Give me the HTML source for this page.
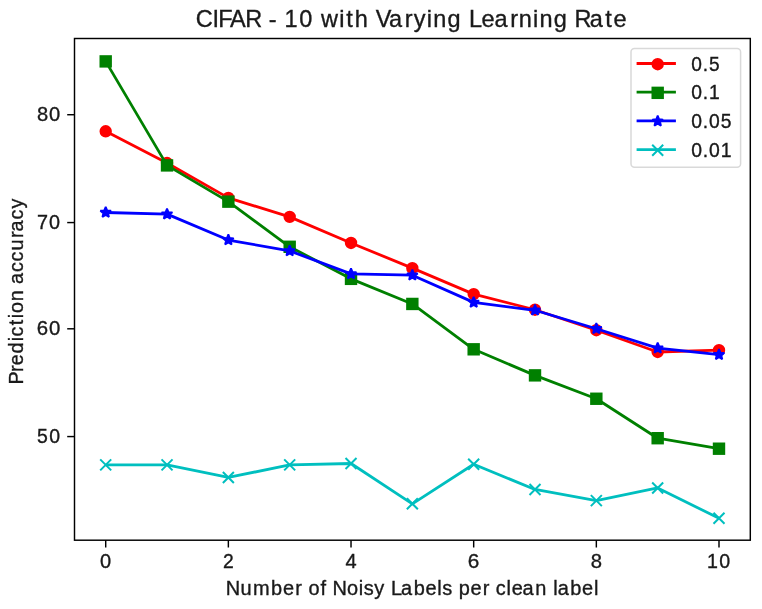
<!DOCTYPE html>
<html><head><meta charset="utf-8"><style>
html,body{margin:0;padding:0;background:#fff;width:762px;height:609px;overflow:hidden}
svg{display:block;will-change:transform}
.t{font-family:"Liberation Sans",sans-serif;font-size:19.3px;fill:#1a1a1a;stroke:#1a1a1a;stroke-width:0.35px}
.title{font-family:"Liberation Sans",sans-serif;font-size:23.3px;fill:#1a1a1a;stroke:#1a1a1a;stroke-width:0.35px}
</style></head><body>
<svg width="762" height="609" viewBox="0 0 762 609">
<rect x="0" y="0" width="762" height="609" fill="#fff"/>
<g><polyline points="105.70,131.31 167.03,163.05 228.36,197.90 289.69,216.88 351.02,242.94 412.35,268.14 473.68,294.09 535.01,309.74 596.34,330.23 657.67,351.99 719.00,350.17" fill="none" stroke="#ff0000" stroke-width="2.8" stroke-linejoin="round" stroke-linecap="butt"/><circle cx="105.70" cy="131.31" r="5.30" fill="#ff0000" stroke="#ff0000" stroke-width="1.8"/><circle cx="167.03" cy="163.05" r="5.30" fill="#ff0000" stroke="#ff0000" stroke-width="1.8"/><circle cx="228.36" cy="197.90" r="5.30" fill="#ff0000" stroke="#ff0000" stroke-width="1.8"/><circle cx="289.69" cy="216.88" r="5.30" fill="#ff0000" stroke="#ff0000" stroke-width="1.8"/><circle cx="351.02" cy="242.94" r="5.30" fill="#ff0000" stroke="#ff0000" stroke-width="1.8"/><circle cx="412.35" cy="268.14" r="5.30" fill="#ff0000" stroke="#ff0000" stroke-width="1.8"/><circle cx="473.68" cy="294.09" r="5.30" fill="#ff0000" stroke="#ff0000" stroke-width="1.8"/><circle cx="535.01" cy="309.74" r="5.30" fill="#ff0000" stroke="#ff0000" stroke-width="1.8"/><circle cx="596.34" cy="330.23" r="5.30" fill="#ff0000" stroke="#ff0000" stroke-width="1.8"/><circle cx="657.67" cy="351.99" r="5.30" fill="#ff0000" stroke="#ff0000" stroke-width="1.8"/><circle cx="719.00" cy="350.17" r="5.30" fill="#ff0000" stroke="#ff0000" stroke-width="1.8"/><polyline points="105.70,61.40 167.03,165.41 228.36,201.66 289.69,246.80 351.02,278.86 412.35,303.95 473.68,349.31 535.01,375.37 596.34,398.75 657.67,438.21 719.00,448.71" fill="none" stroke="#008000" stroke-width="2.8" stroke-linejoin="round" stroke-linecap="butt"/><rect x="100.40" y="56.10" width="10.60" height="10.60" fill="#008000" stroke="#008000" stroke-width="1.8" stroke-linejoin="miter"/><rect x="161.73" y="160.11" width="10.60" height="10.60" fill="#008000" stroke="#008000" stroke-width="1.8" stroke-linejoin="miter"/><rect x="223.06" y="196.36" width="10.60" height="10.60" fill="#008000" stroke="#008000" stroke-width="1.8" stroke-linejoin="miter"/><rect x="284.39" y="241.50" width="10.60" height="10.60" fill="#008000" stroke="#008000" stroke-width="1.8" stroke-linejoin="miter"/><rect x="345.72" y="273.56" width="10.60" height="10.60" fill="#008000" stroke="#008000" stroke-width="1.8" stroke-linejoin="miter"/><rect x="407.05" y="298.65" width="10.60" height="10.60" fill="#008000" stroke="#008000" stroke-width="1.8" stroke-linejoin="miter"/><rect x="468.38" y="344.01" width="10.60" height="10.60" fill="#008000" stroke="#008000" stroke-width="1.8" stroke-linejoin="miter"/><rect x="529.71" y="370.07" width="10.60" height="10.60" fill="#008000" stroke="#008000" stroke-width="1.8" stroke-linejoin="miter"/><rect x="591.04" y="393.45" width="10.60" height="10.60" fill="#008000" stroke="#008000" stroke-width="1.8" stroke-linejoin="miter"/><rect x="652.37" y="432.91" width="10.60" height="10.60" fill="#008000" stroke="#008000" stroke-width="1.8" stroke-linejoin="miter"/><rect x="713.70" y="443.41" width="10.60" height="10.60" fill="#008000" stroke="#008000" stroke-width="1.8" stroke-linejoin="miter"/><polyline points="105.70,212.49 167.03,214.09 228.36,240.04 289.69,250.87 351.02,273.93 412.35,275.22 473.68,302.35 535.01,310.28 596.34,328.72 657.67,348.13 719.00,354.67" fill="none" stroke="#0000ff" stroke-width="2.8" stroke-linejoin="round" stroke-linecap="butt"/><polygon points="105.70,206.89 104.22,210.45 100.37,210.76 103.30,213.27 102.41,217.02 105.70,215.01 108.99,217.02 108.10,213.27 111.03,210.76 107.18,210.45" fill="#0000ff" stroke="#0000ff" stroke-width="1.8" stroke-linejoin="bevel"/><polygon points="167.03,208.49 165.55,212.06 161.70,212.36 164.63,214.87 163.74,218.63 167.03,216.61 170.32,218.63 169.43,214.87 172.36,212.36 168.51,212.06" fill="#0000ff" stroke="#0000ff" stroke-width="1.8" stroke-linejoin="bevel"/><polygon points="228.36,234.44 226.88,238.01 223.03,238.31 225.96,240.82 225.07,244.58 228.36,242.56 231.65,244.58 230.76,240.82 233.69,238.31 229.84,238.01" fill="#0000ff" stroke="#0000ff" stroke-width="1.8" stroke-linejoin="bevel"/><polygon points="289.69,245.27 288.21,248.84 284.36,249.14 287.29,251.65 286.40,255.41 289.69,253.39 292.98,255.41 292.09,251.65 295.02,249.14 291.17,248.84" fill="#0000ff" stroke="#0000ff" stroke-width="1.8" stroke-linejoin="bevel"/><polygon points="351.02,268.33 349.54,271.89 345.69,272.20 348.62,274.71 347.73,278.46 351.02,276.45 354.31,278.46 353.42,274.71 356.35,272.20 352.50,271.89" fill="#0000ff" stroke="#0000ff" stroke-width="1.8" stroke-linejoin="bevel"/><polygon points="412.35,269.62 410.87,273.18 407.02,273.49 409.95,275.99 409.06,279.75 412.35,277.74 415.64,279.75 414.75,275.99 417.68,273.49 413.83,273.18" fill="#0000ff" stroke="#0000ff" stroke-width="1.8" stroke-linejoin="bevel"/><polygon points="473.68,296.75 472.20,300.31 468.35,300.61 471.28,303.12 470.39,306.88 473.68,304.87 476.97,306.88 476.08,303.12 479.01,300.61 475.16,300.31" fill="#0000ff" stroke="#0000ff" stroke-width="1.8" stroke-linejoin="bevel"/><polygon points="535.01,304.68 533.53,308.24 529.68,308.55 532.61,311.06 531.72,314.81 535.01,312.80 538.30,314.81 537.41,311.06 540.34,308.55 536.49,308.24" fill="#0000ff" stroke="#0000ff" stroke-width="1.8" stroke-linejoin="bevel"/><polygon points="596.34,323.12 594.86,326.69 591.01,326.99 593.94,329.50 593.05,333.25 596.34,331.24 599.63,333.25 598.74,329.50 601.67,326.99 597.82,326.69" fill="#0000ff" stroke="#0000ff" stroke-width="1.8" stroke-linejoin="bevel"/><polygon points="657.67,342.53 656.19,346.09 652.34,346.40 655.27,348.91 654.38,352.66 657.67,350.65 660.96,352.66 660.07,348.91 663.00,346.40 659.15,346.09" fill="#0000ff" stroke="#0000ff" stroke-width="1.8" stroke-linejoin="bevel"/><polygon points="719.00,349.07 717.52,352.63 713.67,352.94 716.60,355.45 715.71,359.20 719.00,357.19 722.29,359.20 721.40,355.45 724.33,352.94 720.48,352.63" fill="#0000ff" stroke="#0000ff" stroke-width="1.8" stroke-linejoin="bevel"/><polyline points="105.70,464.91 167.03,464.91 228.36,477.45 289.69,464.91 351.02,463.51 412.35,503.83 473.68,464.26 535.01,489.46 596.34,500.61 657.67,487.96 719.00,518.31" fill="none" stroke="#00bfbf" stroke-width="2.8" stroke-linejoin="round" stroke-linecap="butt"/><path d="M100.20,459.41L111.20,470.41M100.20,470.41L111.20,459.41" stroke="#00bfbf" stroke-width="2.0" fill="none"/><path d="M161.53,459.41L172.53,470.41M161.53,470.41L172.53,459.41" stroke="#00bfbf" stroke-width="2.0" fill="none"/><path d="M222.86,471.95L233.86,482.95M222.86,482.95L233.86,471.95" stroke="#00bfbf" stroke-width="2.0" fill="none"/><path d="M284.19,459.41L295.19,470.41M284.19,470.41L295.19,459.41" stroke="#00bfbf" stroke-width="2.0" fill="none"/><path d="M345.52,458.01L356.52,469.01M345.52,469.01L356.52,458.01" stroke="#00bfbf" stroke-width="2.0" fill="none"/><path d="M406.85,498.33L417.85,509.33M406.85,509.33L417.85,498.33" stroke="#00bfbf" stroke-width="2.0" fill="none"/><path d="M468.18,458.76L479.18,469.76M468.18,469.76L479.18,458.76" stroke="#00bfbf" stroke-width="2.0" fill="none"/><path d="M529.51,483.96L540.51,494.96M529.51,494.96L540.51,483.96" stroke="#00bfbf" stroke-width="2.0" fill="none"/><path d="M590.84,495.11L601.84,506.11M590.84,506.11L601.84,495.11" stroke="#00bfbf" stroke-width="2.0" fill="none"/><path d="M652.17,482.46L663.17,493.46M652.17,493.46L663.17,482.46" stroke="#00bfbf" stroke-width="2.0" fill="none"/><path d="M713.50,512.81L724.50,523.81M713.50,523.81L724.50,512.81" stroke="#00bfbf" stroke-width="2.0" fill="none"/></g>
<rect x="74.5" y="38.5" width="675.80" height="501.70" fill="none" stroke="#000" stroke-width="1.45" stroke-linejoin="miter"/>
<line x1="105.70" y1="540.2" x2="105.70" y2="547.5" stroke="#000" stroke-width="1.45"/><text transform="translate(99.66,567.60) scale(1.0378,1)" x="0.45" y="0" class="t">0</text><line x1="228.36" y1="540.2" x2="228.36" y2="547.5" stroke="#000" stroke-width="1.45"/><text transform="translate(222.57,567.60) scale(1.0003,1)" x="0.42" y="0" class="t">2</text><line x1="351.02" y1="540.2" x2="351.02" y2="547.5" stroke="#000" stroke-width="1.45"/><text transform="translate(345.05,567.60) scale(1.0379,1)" x="0.45" y="0" class="t">4</text><line x1="473.68" y1="540.2" x2="473.68" y2="547.5" stroke="#000" stroke-width="1.45"/><text transform="translate(467.57,567.60) scale(1.0740,1)" x="0.26" y="0" class="t">6</text><line x1="596.34" y1="540.2" x2="596.34" y2="547.5" stroke="#000" stroke-width="1.45"/><text transform="translate(590.30,567.60) scale(1.0490,1)" x="0.39" y="0" class="t">8</text><line x1="719.00" y1="540.2" x2="719.00" y2="547.5" stroke="#000" stroke-width="1.45"/><text transform="translate(706.50,567.60) scale(1.0156,1)" x="0.48 12.49" y="0" class="t">10</text><line x1="67.2" y1="436.57" x2="74.5" y2="436.57" stroke="#000" stroke-width="1.45"/><text transform="translate(36.48,443.17) scale(1.0087,1)" x="0.55 12.61" y="0" class="t">50</text><line x1="67.2" y1="328.80" x2="74.5" y2="328.80" stroke="#000" stroke-width="1.45"/><text transform="translate(36.48,335.40) scale(1.0556,1)" x="0.35 11.81" y="0" class="t">60</text><line x1="67.2" y1="222.57" x2="74.5" y2="222.57" stroke="#000" stroke-width="1.45"/><text transform="translate(36.48,229.17) scale(1.0267,1)" x="0.48 12.29" y="0" class="t">70</text><line x1="67.2" y1="114.72" x2="74.5" y2="114.72" stroke="#000" stroke-width="1.45"/><text transform="translate(36.48,121.32) scale(1.0433,1)" x="0.42 12.01" y="0" class="t">80</text>
<text transform="translate(196.42,27.00) scale(1.0097,1)" x="-0.66 15.83 21.72 33.19 48.45 64.32 71.67 79.60 87.35 101.80 115.43 123.40 141.59 148.43 156.82 170.41 177.53 190.86 206.27 215.18 228.23 234.66 248.77 262.52 269.98 282.38 295.33 310.74 319.16 333.28 339.71 353.82 367.57 374.53 389.50 404.83 413.05" y="0" class="title">CIFAR - 10 with Varying Learning Rate</text><text transform="translate(225.74,595.25) scale(1.0346,1)" x="-0.10 14.16 26.34 43.86 55.26 67.15 73.79 79.89 91.66 97.34 103.08 117.18 128.58 133.35 143.44 153.71 159.69 169.37 181.63 193.03 204.41 209.20 218.69 225.11 236.51 248.40 255.04 260.89 271.39 276.41 286.95 299.13 310.28 316.53 320.80 333.06 344.46 355.85" y="0" class="t">Number of Noisy Labels per clean label</text><text transform="translate(23.20,384.06) rotate(-90) scale(1.0242,1)" x="-0.53 11.78 18.45 29.90 41.71 46.48 57.54 64.35 69.37 80.96 92.17 97.70 109.50 119.71 130.33 142.58 148.87 160.67 171.48" y="0" class="t">Prediction accuracy</text>
<rect x="631.0" y="48.4" width="109.60" height="118.90" rx="3.5" ry="3.5" fill="#fff" fill-opacity="0.8" stroke="#d9d9d9" stroke-width="1.5"/><line x1="636.6" y1="63.5" x2="675.9" y2="63.5" stroke="#ff0000" stroke-width="2.8"/><circle cx="657.70" cy="64.20" r="5.30" fill="#ff0000" stroke="#ff0000" stroke-width="1.8"/><text transform="translate(690.67,70.50) scale(0.9925,1)" x="0.59 12.22 18.42" y="0" class="t">0.5</text><line x1="636.6" y1="92.2" x2="675.9" y2="92.2" stroke="#008000" stroke-width="2.8"/><rect x="652.40" y="87.55" width="10.60" height="10.60" fill="#008000" stroke="#008000" stroke-width="1.8" stroke-linejoin="miter"/><text transform="translate(690.67,99.20) scale(0.9989,1)" x="0.55 12.13 18.24" y="0" class="t">0.1</text><line x1="636.6" y1="120.8" x2="675.9" y2="120.8" stroke="#0000ff" stroke-width="2.8"/><polygon points="657.70,115.70 656.22,119.26 652.37,119.57 655.30,122.08 654.41,125.83 657.70,123.82 660.99,125.83 660.10,122.08 663.03,119.57 659.18,119.26" fill="#0000ff" stroke="#0000ff" stroke-width="1.8" stroke-linejoin="bevel"/><text transform="translate(690.67,127.80) scale(0.9998,1)" x="0.55 12.11 18.32 30.09" y="0" class="t">0.05</text><line x1="636.6" y1="149.6" x2="675.9" y2="149.6" stroke="#00bfbf" stroke-width="2.8"/><path d="M652.20,144.70L663.20,155.70M652.20,155.70L663.20,144.70" stroke="#00bfbf" stroke-width="2.0" fill="none"/><text transform="translate(690.67,156.60) scale(1.0044,1)" x="0.52 12.05 18.21 29.90" y="0" class="t">0.01</text>
</svg>
</body></html>
